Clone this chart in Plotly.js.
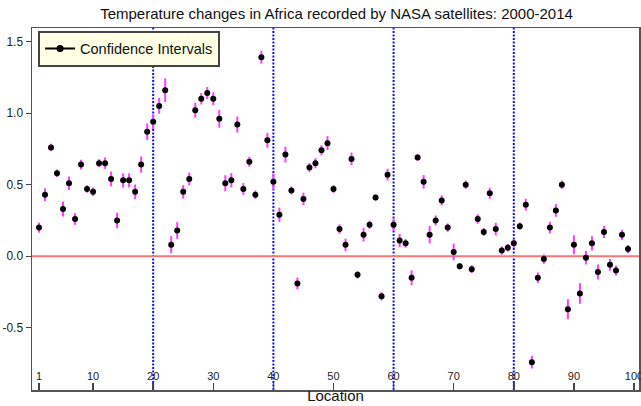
<!DOCTYPE html>
<html>
<head>
<meta charset="utf-8">
<script src="https://cdn.plot.ly/plotly-3.0.1.min.js"></script>
<style>
  html, body { margin: 0; padding: 0; background: #fff; }
  #chart { width: 641px; height: 406px; }
</style>
</head>
<body>
<div id="chart"></div>
<script>
const locations = [1,2,3,4,5,6,7,8,9,10,11,12,13,14,15,16,17,18,19,20,
  21,22,23,24,25,26,27,28,29,30,31,32,33,34,35,36,37,38,39,40,
  41,42,43,44,45,46,47,48,49,50,51,52,53,54,55,56,57,58,59,60,
  61,62,63,64,65,66,67,68,69,70,71,72,73,74,75,76,77,78,79,80,
  81,82,83,84,85,86,87,88,89,90,91,92,93,94,95,96,97,98,99];

const tempChange = [0.20,0.43,0.76,0.58,0.33,0.51,0.26,0.64,0.47,0.45,
  0.65,0.65,0.54,0.25,0.53,0.53,0.45,0.64,0.87,0.94,
  1.05,1.16,0.08,0.18,0.45,0.54,1.02,1.10,1.14,1.10,
  0.96,0.51,0.53,0.92,0.47,0.66,0.43,1.39,0.81,0.52,
  0.29,0.71,0.46,-0.19,0.40,0.62,0.65,0.74,0.79,0.47,
  0.19,0.08,0.68,-0.13,0.15,0.22,0.41,-0.28,0.57,0.22,
  0.11,0.09,-0.15,0.69,0.52,0.15,0.25,0.39,0.20,0.03,
  -0.07,0.50,-0.09,0.26,0.17,0.44,0.19,0.04,0.06,0.09,
  0.21,0.36,-0.74,-0.15,-0.02,0.20,0.32,0.50,-0.37,0.08,
  -0.26,-0.01,0.09,-0.11,0.17,-0.06,-0.10,0.15,0.05];

const ciHalfWidth = [0.035,0.044,0.026,0.026,0.052,0.047,0.041,0.034,0.026,0.029,
  0.028,0.040,0.052,0.054,0.049,0.049,0.051,0.057,0.057,0.052,
  0.055,0.082,0.060,0.058,0.047,0.044,0.052,0.040,0.042,0.045,
  0.062,0.056,0.050,0.056,0.041,0.035,0.029,0.045,0.052,0.058,
  0.050,0.055,0.027,0.041,0.044,0.031,0.035,0.035,0.049,0.027,
  0.033,0.043,0.044,0.026,0.047,0.029,0.021,0.029,0.041,0.044,
  0.047,0.030,0.052,0.023,0.047,0.061,0.035,0.035,0.029,0.058,
  0.023,0.029,0.027,0.033,0.027,0.039,0.044,0.029,0.027,0.031,
  0.025,0.041,0.044,0.037,0.033,0.041,0.044,0.029,0.070,0.066,
  0.072,0.047,0.050,0.052,0.043,0.041,0.035,0.035,0.029];

const xTickVals = [1,10,20,30,40,50,60,70,80,90,100];
const yTickVals = [-0.5,0,0.5,1.0,1.5];
const yTickText = ['-0.5','0.0','0.5','1.0','1.5'];
const dividers = [20,40,60,80];
const baseline = [0];

const traces = [
  {
    x: locations, y: tempChange, type: 'scatter', mode: 'markers',
    marker: {color: '#000', size: 6},
    error_y: {type: 'data', array: ciHalfWidth, visible: true, color: '#ff3cff', thickness: 2, width: 0},
    showlegend: false, hoverinfo: 'x+y'
  },
  {
    x: [null], y: [null], type: 'scatter', mode: 'lines+markers',
    name: 'Confidence Intervals',
    line: {color: '#000', width: 2}, marker: {color: '#000', size: 7}
  }
];

const shapes = [];
dividers.forEach(d => shapes.push({
  type: 'line', xref: 'x', yref: 'paper', x0: d, x1: d, y0: 0, y1: 1,
  line: {color: '#1010ff', width: 2, dash: '2px,1.5px'}, layer: 'below'
}));
baseline.forEach(b => shapes.push({
  type: 'line', xref: 'paper', yref: 'y', x0: 0, x1: 1, y0: b, y1: b,
  line: {color: '#f07878', width: 2}, layer: 'below'
}));

const layout = {
  width: 641, height: 406,
  margin: {l: 32, r: 2, t: 28, b: 16},
  paper_bgcolor: '#fff', plot_bgcolor: '#fff',
  font: {family: 'Liberation Sans, Arial, sans-serif', color: '#222', size: 11},
  title: {text: 'Temperature changes in Africa recorded by NASA satellites: 2000-2014',
          font: {size: 15, color: '#111'}, x: 0.525, xanchor: 'center', y: 0.965, yanchor: 'middle'},
  xaxis: {
    range: [-0.16, 100.83], tickvals: xTickVals, ticks: 'inside', ticklen: 7, tickwidth: 1.5,
    tickcolor: '#444', ticklabelposition: 'inside', ticklabeloverflow: 'allow',
    showgrid: false, zeroline: false,
    showline: true, linecolor: '#555', linewidth: 1.5, mirror: true,
    tickfont: {size: 11, color: '#222'},
    title: {text: 'Location', font: {size: 15, color: '#111'}, standoff: 9}
  },
  yaxis: {
    range: [-0.934, 1.594], tickvals: yTickVals, ticktext: yTickText, ticks: 'outside', ticklen: 5,
    tickcolor: '#444', showgrid: false, zeroline: false,
    showline: true, linecolor: '#555', linewidth: 1.5, mirror: true,
    tickfont: {size: 12, color: '#222'}
  },
  legend: {
    x: 0.01, y: 0.993, xanchor: 'left', yanchor: 'top',
    bgcolor: '#ffffe6', bordercolor: '#444', borderwidth: 2,
    font: {size: 14.5, color: '#111'}
  },
  shapes: shapes
};

Plotly.newPlot('chart', traces, layout, {displayModeBar: false, staticPlot: true});
</script>
</body>
</html>
